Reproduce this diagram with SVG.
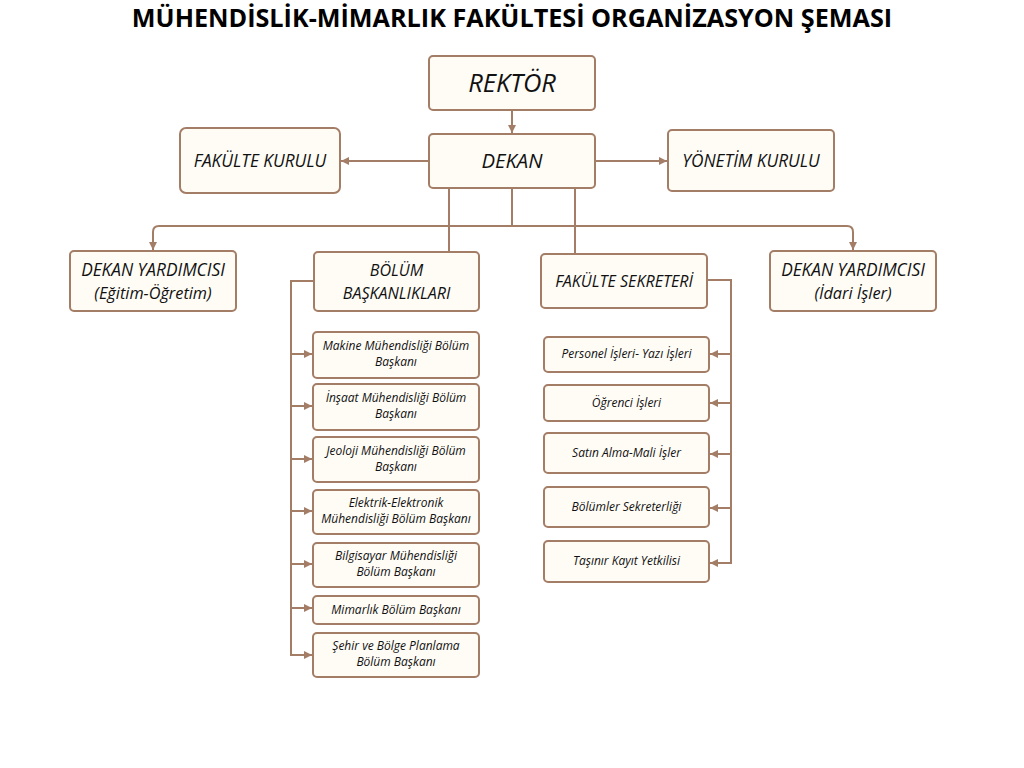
<svg xmlns="http://www.w3.org/2000/svg" width="1024" height="768" viewBox="0 0 1024 768">
<defs>
<style>
.box{fill:#fffcf6;stroke:#a47d67;stroke-width:2}
.ln{fill:none;stroke:#a47d67;stroke-width:2}
.t{font-family:"Open Sans","Liberation Sans",sans-serif;font-style:italic;fill:#111;text-anchor:middle}
.l{font-size:17.3px}
.m{font-size:16.1px}
.s{font-size:12px}
.title{font-family:"Open Sans","Liberation Sans",sans-serif;font-weight:bold;font-size:25.2px;fill:#000;text-anchor:middle}
</style>
<marker id="ah" markerUnits="userSpaceOnUse" markerWidth="9" markerHeight="9" refX="8" refY="4.5" orient="auto">
<path d="M0,0.5 L8,4.5 L0,8.5 Z" fill="#a47d67"/>
</marker>
</defs>
<rect width="1024" height="768" fill="#fff"/>
<text class="title" x="512" y="27">MÜHENDİSLİK-MİMARLIK FAKÜLTESİ ORGANİZASYON ŞEMASI</text>

<g id="connectors">
<path class="ln" d="M512,110 V133" marker-end="url(#ah)"/>
<path class="ln" d="M429,161 H341" marker-end="url(#ah)"/>
<path class="ln" d="M595,161 H667" marker-end="url(#ah)"/>
<path class="ln" d="M449,188 V252"/>
<path class="ln" d="M575,188 V253"/>
<path class="ln" d="M512,188 V226 H159 Q153,226 153,232 V250" marker-end="url(#ah)"/>
<path class="ln" d="M512,226 H847 Q853,226 853,232 V250" marker-end="url(#ah)"/>
<path class="ln" d="M314,281 H291 V655 H312" marker-end="url(#ah)"/>
<path class="ln" d="M291,354 H312" marker-end="url(#ah)"/>
<path class="ln" d="M291,406 H312" marker-end="url(#ah)"/>
<path class="ln" d="M291,459 H312" marker-end="url(#ah)"/>
<path class="ln" d="M291,511 H312" marker-end="url(#ah)"/>
<path class="ln" d="M291,564 H312" marker-end="url(#ah)"/>
<path class="ln" d="M291,608 H312" marker-end="url(#ah)"/>
<path class="ln" d="M707,280 H731 V563 H710" marker-end="url(#ah)"/>
<path class="ln" d="M731,354 H710" marker-end="url(#ah)"/>
<path class="ln" d="M731,403 H710" marker-end="url(#ah)"/>
<path class="ln" d="M731,454 H710" marker-end="url(#ah)"/>
<path class="ln" d="M731,508 H710" marker-end="url(#ah)"/>
</g>

<g id="rektor"><rect class="box" x="429" y="56" width="166" height="54" rx="4"/><text class="t" x="512" y="92" font-size="25.5">REKTÖR</text></g>
<g id="dekan"><rect class="box" x="429" y="134" width="166" height="54" rx="4"/><text class="t" x="512" y="168" font-size="20.3">DEKAN</text></g>
<g id="fakulte-kurulu"><rect class="box" x="180" y="128" width="160" height="65" rx="6"/><text class="t l" x="260" y="167">FAKÜLTE KURULU</text></g>
<g id="yonetim-kurulu"><rect class="box" x="668" y="130" width="166" height="61" rx="4"/><text class="t l" x="751" y="167">YÖNETİM KURULU</text></g>

<g id="dy-egitim"><rect class="box" x="70" y="251" width="166" height="60" rx="4"/><text class="t l" x="153" y="276">DEKAN YARDIMCISI</text><text class="t" x="153" y="299" font-size="16.3">(Eğitim-Öğretim)</text></g>
<g id="bolum-baskanliklari"><rect class="box" x="314" y="252" width="165" height="59" rx="4"/><text class="t m" x="396.5" y="276">BÖLÜM</text><text class="t m" x="396.5" y="299">BAŞKANLIKLARI</text></g>
<g id="fakulte-sekreteri"><rect class="box" x="541" y="254" width="166" height="54" rx="4"/><text class="t m" x="624" y="287">FAKÜLTE SEKRETERİ</text></g>
<g id="dy-idari"><rect class="box" x="770" y="251" width="166" height="60" rx="4"/><text class="t l" x="853" y="276">DEKAN YARDIMCISI</text><text class="t" x="853" y="299" font-size="16.3">(İdari İşler)</text></g>

<g id="makine"><rect class="box" x="313" y="332" width="166" height="46" rx="4"/><text class="t s" x="396" y="350">Makine Mühendisliği Bölüm</text><text class="t s" x="396" y="366">Başkanı</text></g>
<g id="insaat"><rect class="box" x="313" y="384" width="166" height="46" rx="4"/><text class="t s" x="396" y="402">İnşaat Mühendisliği Bölüm</text><text class="t s" x="396" y="418">Başkanı</text></g>
<g id="jeoloji"><rect class="box" x="313" y="437" width="166" height="45" rx="4"/><text class="t s" x="396" y="455">Jeoloji Mühendisliği Bölüm</text><text class="t s" x="396" y="471">Başkanı</text></g>
<g id="elektrik"><rect class="box" x="313" y="490" width="166" height="44" rx="4"/><text class="t s" x="396" y="507">Elektrik-Elektronik</text><text class="t s" x="396" y="523">Mühendisliği Bölüm Başkanı</text></g>
<g id="bilgisayar"><rect class="box" x="313" y="543" width="166" height="44" rx="4"/><text class="t s" x="396" y="560">Bilgisayar Mühendisliği</text><text class="t s" x="396" y="576">Bölüm Başkanı</text></g>
<g id="mimarlik"><rect class="box" x="313" y="596" width="166" height="28" rx="4"/><text class="t s" x="396" y="614">Mimarlık Bölüm Başkanı</text></g>
<g id="sehir"><rect class="box" x="313" y="633" width="166" height="44" rx="4"/><text class="t s" x="396" y="650">Şehir ve Bölge Planlama</text><text class="t s" x="396" y="666">Bölüm Başkanı</text></g>

<g id="personel"><rect class="box" x="544" y="337" width="165" height="35" rx="4"/><text class="t s" x="626.5" y="358">Personel İşleri- Yazı İşleri</text></g>
<g id="ogrenci"><rect class="box" x="544" y="385" width="165" height="36" rx="4"/><text class="t s" x="626.5" y="407">Öğrenci İşleri</text></g>
<g id="satin-alma"><rect class="box" x="544" y="433" width="165" height="40" rx="4"/><text class="t s" x="626.5" y="457">Satın Alma-Mali İşler</text></g>
<g id="bolumler-sekreterligi"><rect class="box" x="544" y="487" width="165" height="40" rx="4"/><text class="t s" x="626.5" y="511">Bölümler Sekreterliği</text></g>
<g id="tasinir"><rect class="box" x="544" y="541" width="165" height="41" rx="4"/><text class="t s" x="626.5" y="565">Taşınır Kayıt Yetkilisi</text></g>
</svg>
